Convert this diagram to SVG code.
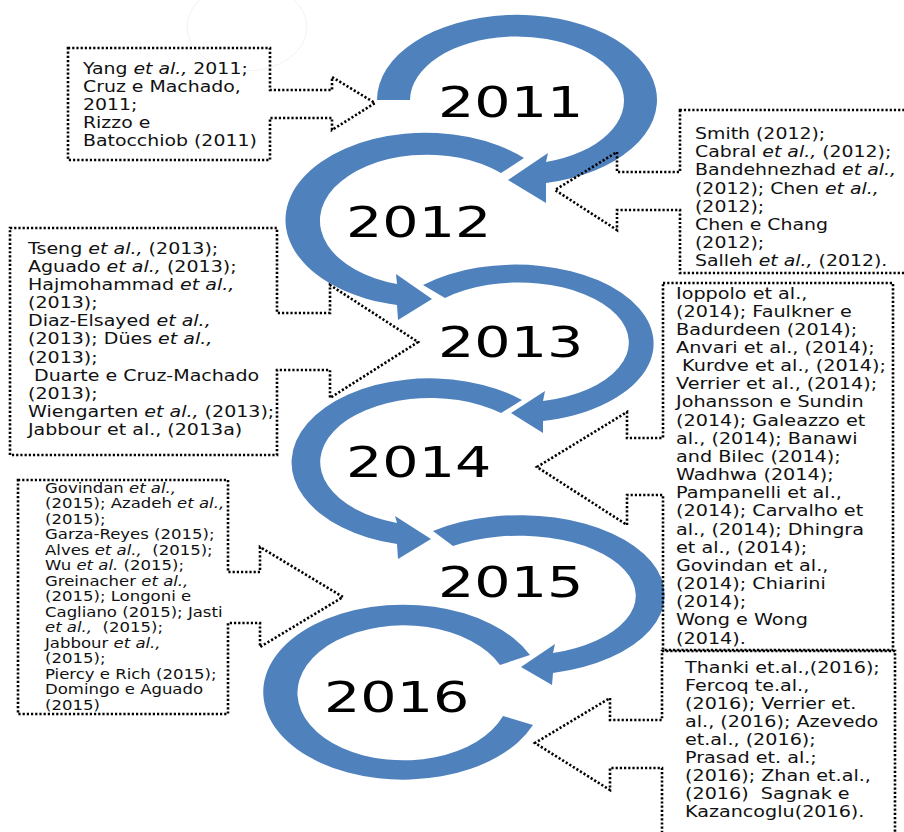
<svg xmlns="http://www.w3.org/2000/svg" width="904" height="832" viewBox="0 0 904 832">
<style>
.bg{fill:#fff}
.arc{fill:#4F81BD}
.cb{fill:none;stroke:#000;stroke-width:2.6;stroke-dasharray:2.2 2}
.t{font-family:"DejaVu Sans","Liberation Sans",sans-serif;font-size:15px;fill:#111}
.t2{font-family:"DejaVu Sans","Liberation Sans",sans-serif;font-size:14px;fill:#111}
.i{font-style:italic}
.yr{font-family:"DejaVu Sans","Liberation Sans",sans-serif;font-size:42px;fill:#000}
</style>
<rect class="bg" x="0" y="0" width="904" height="832"/>
<ellipse cx="247" cy="27" rx="60" ry="44" fill="none" stroke="#f3f3f3" stroke-width="1"/>
<g id="connectors">
<path class="arc" d="M377,100 A140,85 0 1 1 546,183 L546,203 L508,180 L548,153 L546,162 A107,64 0 1 0 410,100 Z"/>
<path class="arc" d="M524,158 A140,87 0 1 0 397,305 L398,320 L432,299 L396,274 L397,284 A107,66 0 1 1 501,173 Z"/>
<path class="arc" d="M423,285 A138,79 0 1 1 543,421 L543,433 L511,413 L545,391 L543,401 A110,60 0 1 0 445,298 Z"/>
<path class="arc" d="M522,400 A138,84 0 1 0 397,544 L398,559 L431,539 L395,516 L397,523 A110,64 0 1 1 501,413 Z"/>
<path class="arc" d="M433,531 A145,80 0 1 1 553,673 L552,685 L521,667 L555,644 L553,653 A117,60 0 1 0 453,546 Z"/>
<path class="arc" d="M530,655 A140,87.5 0 1 0 533,725 L503,716 A106,67.5 0 1 1 500,665 Z"/>
</g>
<g id="year-2011"><text class="yr" transform="translate(438,117) scale(1.36,1)">2011</text></g>
<g id="year-2012"><text class="yr" transform="translate(346,237) scale(1.36,1)">2012</text></g>
<g id="year-2013"><text class="yr" transform="translate(438,357) scale(1.36,1)">2013</text></g>
<g id="year-2014"><text class="yr" transform="translate(346,477) scale(1.36,1)">2014</text></g>
<g id="year-2015"><text class="yr" transform="translate(438,597) scale(1.36,1)">2015</text></g>
<g id="year-2016"><text class="yr" transform="translate(324,712) scale(1.36,1)">2016</text></g>

<g id="refs-2011">
<path class="cb" d="M68,48 H270 V90 H332 V77 L375,103 L332,130 V118 H270 V160 H68 Z"/>
<text class="t" transform="translate(83,74) scale(1.26,1)"><tspan x="0" y="0">Yang <tspan class="i">et al.,</tspan> 2011;</tspan><tspan x="0" y="18">Cruz e Machado,</tspan><tspan x="0" y="36">2011;</tspan><tspan x="0" y="54">Rizzo e</tspan><tspan x="0" y="72">Batocchiob (2011)</tspan></text>
</g>

<g id="refs-2012">
<path class="cb" d="M680,110 V172 H617 V152 L555,190 L617,230 V210 H680 V273 H912 V110 Z"/>
<text class="t" transform="translate(695,139) scale(1.26,1)"><tspan x="0" y="0">Smith (2012);</tspan><tspan x="0" y="18.2">Cabral <tspan class="i">et al.,</tspan> (2012);</tspan><tspan x="0" y="36.4">Bandehnezhad <tspan class="i">et al.,</tspan></tspan><tspan x="0" y="54.6">(2012); Chen <tspan class="i">et al.,</tspan></tspan><tspan x="0" y="72.8">(2012);</tspan><tspan x="0" y="91">Chen e Chang</tspan><tspan x="0" y="109.2">(2012);</tspan><tspan x="0" y="127.4">Salleh <tspan class="i">et al.,</tspan> (2012).</tspan></text>
</g>

<g id="refs-2013">
<path class="cb" d="M10,228 H277 V313 H330 V285 L418,342 L330,398 V370 H277 V455 H10 Z"/>
<text class="t" transform="translate(28,253.5) scale(1.27,1)"><tspan x="0" y="0">Tseng <tspan class="i">et al.,</tspan> (2013);</tspan><tspan x="0" y="18.2">Aguado <tspan class="i">et al.,</tspan> (2013);</tspan><tspan x="0" y="36.4">Hajmohammad <tspan class="i">et al.,</tspan></tspan><tspan x="0" y="54.6">(2013);</tspan><tspan x="0" y="72.8">Diaz-Elsayed <tspan class="i">et al.,</tspan></tspan><tspan x="0" y="91">(2013); Dües <tspan class="i">et al.,</tspan></tspan><tspan x="0" y="109.2">(2013);</tspan><tspan x="0" y="127.4">&#160;Duarte e Cruz-Machado</tspan><tspan x="0" y="145.6">(2013);</tspan><tspan x="0" y="163.8">Wiengarten <tspan class="i">et al.,</tspan> (2013);</tspan><tspan x="0" y="182">Jabbour et al., (2013a)</tspan></text>
</g>

<g id="refs-2014">
<path class="cb" d="M663,283 H893 V650 H663 V495 H627 V525 L537,467 L627,412 V438 H663 Z"/>
<text class="t" transform="translate(676,298.5) scale(1.28,1)"><tspan x="0" y="0">Ioppolo et al.,</tspan><tspan x="0" y="18.16">(2014); Faulkner e</tspan><tspan x="0" y="36.32">Badurdeen (2014);</tspan><tspan x="0" y="54.48">Anvari et al., (2014);</tspan><tspan x="0" y="72.64">&#160;Kurdve et al., (2014);</tspan><tspan x="0" y="90.8">Verrier et al., (2014);</tspan><tspan x="0" y="108.96">Johansson e Sundin</tspan><tspan x="0" y="127.12">(2014); Galeazzo et</tspan><tspan x="0" y="145.28">al., (2014); Banawi</tspan><tspan x="0" y="163.44">and Bilec (2014);</tspan><tspan x="0" y="181.6">Wadhwa (2014);</tspan><tspan x="0" y="199.76">Pampanelli et al.,</tspan><tspan x="0" y="217.92">(2014); Carvalho et</tspan><tspan x="0" y="236.08">al., (2014); Dhingra</tspan><tspan x="0" y="254.24">et al., (2014);</tspan><tspan x="0" y="272.4">Govindan et al.,</tspan><tspan x="0" y="290.56">(2014); Chiarini</tspan><tspan x="0" y="308.72">(2014);</tspan><tspan x="0" y="326.88">Wong e Wong</tspan><tspan x="0" y="345.04">(2014).</tspan></text>
</g>

<g id="refs-2015">
<path class="cb" d="M18,480 H228 V572 H260 V547 L343,597 L260,647 V623 H228 V714 H18 Z"/>
<text class="t2" transform="translate(45,493) scale(1.18,1)"><tspan x="0" y="0">Govindan <tspan class="i">et al.,</tspan></tspan><tspan x="0" y="15.5">(2015); Azadeh <tspan class="i">et al.,</tspan></tspan><tspan x="0" y="31">(2015);</tspan><tspan x="0" y="46.5">Garza-Reyes (2015);</tspan><tspan x="0" y="62">Alves <tspan class="i">et al.,</tspan>&#160; (2015);</tspan><tspan x="0" y="77.5">Wu <tspan class="i">et al.</tspan> (2015);</tspan><tspan x="0" y="93">Greinacher <tspan class="i">et al.,</tspan></tspan><tspan x="0" y="108.5">(2015); Longoni e</tspan><tspan x="0" y="124">Cagliano (2015); Jasti</tspan><tspan x="0" y="139.5"><tspan class="i">et al.,</tspan>&#160; (2015);</tspan><tspan x="0" y="155">Jabbour <tspan class="i">et al.,</tspan></tspan><tspan x="0" y="170.5">(2015);</tspan><tspan x="0" y="186">Piercy e Rich (2015);</tspan><tspan x="0" y="201.5">Domingo e Aguado</tspan><tspan x="0" y="217">(2015)</tspan></text>
</g>

<g id="refs-2016">
<path class="cb" d="M662,651 H895 V845 H662 V768 H610 V790 L535,743 L610,698 V720 H662 Z"/>
<text class="t" transform="translate(685,672.5) scale(1.277,1)"><tspan x="0" y="0">Thanki et.al.,(2016);</tspan><tspan x="0" y="18.1">Fercoq te.al.,</tspan><tspan x="0" y="36.2">(2016); Verrier et.</tspan><tspan x="0" y="54.3">al., (2016); Azevedo</tspan><tspan x="0" y="72.4">et.al., (2016);</tspan><tspan x="0" y="90.5">Prasad et. al.;</tspan><tspan x="0" y="108.6">(2016); Zhan et.al.,</tspan><tspan x="0" y="126.7">(2016)&#160; Sagnak e</tspan><tspan x="0" y="144.8">Kazancoglu(2016).</tspan></text>
</g>
</svg>
